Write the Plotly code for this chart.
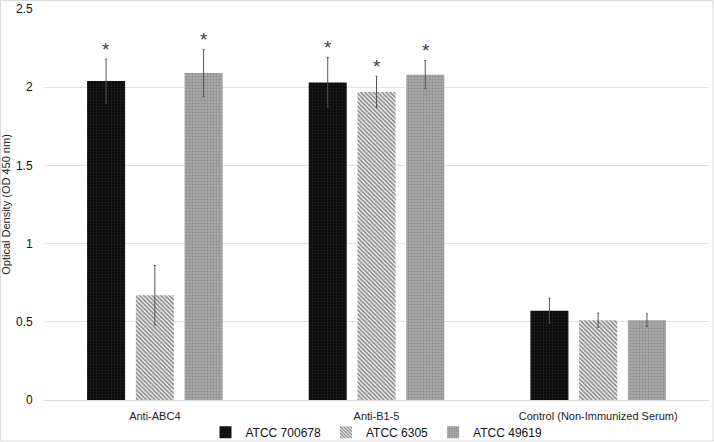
import plotly.graph_objects as go

categories = ["Anti-ABC4", "Anti-B1-5", "Control (Non-Immunized Serum)"]
series_names = ["ATCC 700678", "ATCC 6305", "ATCC 49619"]
values_700678 = [2.04, 2.03, 0.57]
errors_700678 = [0.14, 0.16, 0.08]
values_6305 = [0.67, 1.97, 0.51]
errors_6305 = [0.19, 0.10, 0.045]
values_49619 = [2.09, 2.08, 0.51]
errors_49619 = [0.15, 0.09, 0.04]
significant_700678 = [True, True, False]
significant_6305 = [False, True, False]
significant_49619 = [True, True, False]

series_values = [values_700678, values_6305, values_49619]
series_errors = [errors_700678, errors_6305, errors_49619]
series_sig = [significant_700678, significant_6305, significant_49619]
patterns = [
    dict(shape=".", bgcolor="#0a0a0a", fgcolor="#3a3a3a", size=3, solidity=0.3),
    dict(shape="\\", bgcolor="#ffffff", fgcolor="#1a1a1a", size=3, solidity=0.6),
    dict(shape=".", bgcolor="#a8a8a8", fgcolor="#6e6e6e", size=3, solidity=0.35),
]

FONT = "Liberation Sans, Arial"

fig = go.Figure()
for name, vals, errs, pat in zip(series_names, series_values, series_errors, patterns):
    fig.add_trace(go.Bar(
        name=name, x=categories, y=vals,
        marker=dict(color=pat["bgcolor"], pattern=pat, line=dict(width=0)),
        error_y=dict(type="data", array=errs, visible=True, color="#555555", thickness=1, width=1),
    ))

annotations = []
for si, (vals, errs, sig) in enumerate(zip(series_values, series_errors, series_sig)):
    for ci, cat in enumerate(categories):
        if sig[ci]:
            annotations.append(dict(
                x=ci, y=vals[ci] + errs[ci], xref="x", yref="y",
                text="*", showarrow=False, yshift=10, xshift=(si - 1) * 49,
                font=dict(family=FONT, size=19, color="#404040"),
            ))

fig.update_layout(
    width=714, height=442,
    margin=dict(l=44, r=5, t=9, b=42, autoexpand=False),
    paper_bgcolor="white", plot_bgcolor="white",
    barmode="group", bargap=0.34, bargroupgap=0.22,
    font=dict(family=FONT, size=12, color="#222222"),
    showlegend=True,
    legend=dict(orientation="h", x=0.5, xanchor="center", xref="paper",
                y=0.022, yanchor="middle", yref="container", bgcolor="rgba(0,0,0,0)",
                font=dict(family=FONT, size=12, color="#111111"), itemwidth=30, traceorder="normal",
                tracegroupgap=0),
    annotations=annotations,
    shapes=[dict(type="rect", xref="paper", yref="paper",
                 x0=-43.5/665, x1=1 + 4/665, y0=-41/391, y1=1 + 8.5/391,
                 line=dict(color="#d9d9d9", width=1), fillcolor="rgba(0,0,0,0)", layer="below")],
)
fig.update_xaxes(type="category", showgrid=False, showline=True, linecolor="#d9d9d9", linewidth=1,
                 ticks="outside", ticklen=6, tickcolor="white", automargin=False,
                 tickfont=dict(family=FONT, size=11, color="#222222"))
fig.update_yaxes(range=[0, 2.5], dtick=0.5, showgrid=True, gridcolor="#e3e3e3", gridwidth=1,
                 zeroline=False, showline=False, tickfont=dict(family=FONT, size=12, color="#111111"),
                 tickformat="~g", ticks="outside", ticklen=8, tickcolor="white", automargin=False,
                 title=dict(text="Optical Density (OD 450 nm)", font=dict(family=FONT, size=11, color="#222222"), standoff=8))

fig.write_html("out.html", config={"displayModeBar": False},
               post_script="document.body.style.margin='0';document.body.style.overflow='hidden';")
